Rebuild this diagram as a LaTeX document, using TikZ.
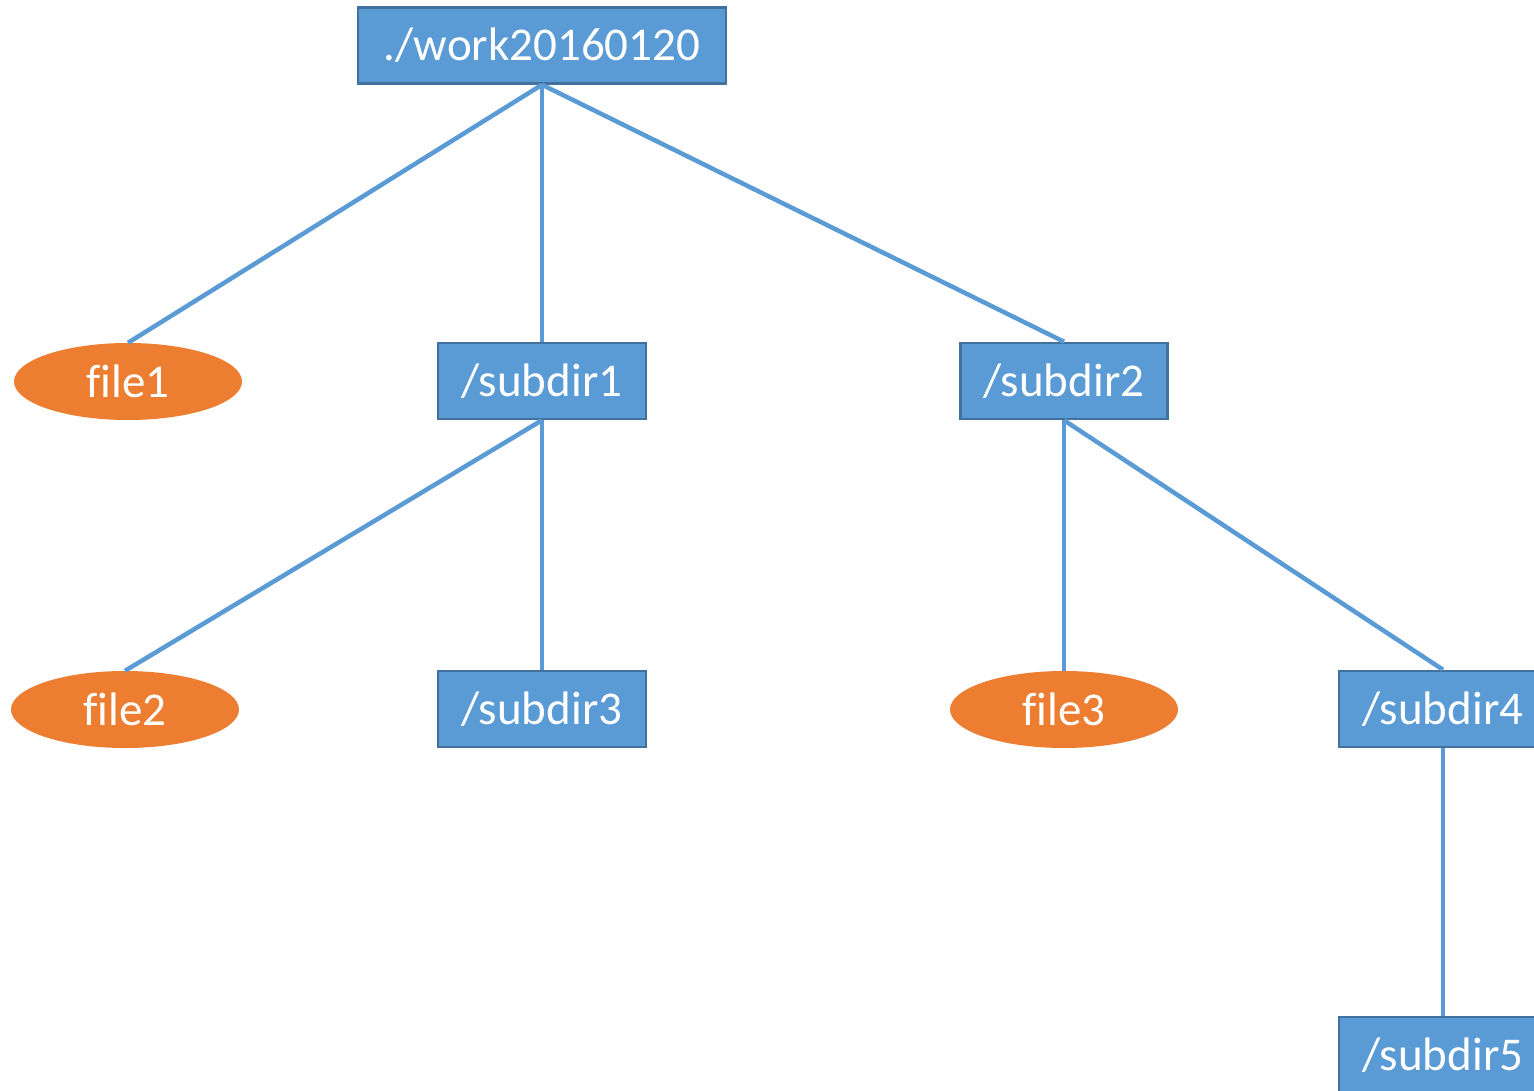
\documentclass[tikz,border=0pt]{standalone}
\usepackage{fontspec}
\setmainfont[Ligatures=NoCommon]{Carlito}
\usetikzlibrary{shapes.geometric}
\definecolor{boxfill}{HTML}{5B9BD5}
\definecolor{boxline}{HTML}{41719C}
\definecolor{filefill}{HTML}{ED7D31}
\tikzset{
  dirbox/.style={draw=boxline, line width=2.5pt, fill=boxfill, text=white, inner sep=0pt,
    minimum height=76pt, font=\fontsize{47}{56}\selectfont},
  filenode/.style={ellipse, fill=filefill, text=white, inner sep=0pt,
    minimum width=228pt, minimum height=77pt, font=\fontsize{47}{56}\selectfont},
  conn/.style={draw=boxfill, line width=4.5pt}
}
\begin{document}
\begin{tikzpicture}[x=1pt,y=-1pt]
\useasboundingbox (0,0) rectangle (1534,1091);
\clip (0,0) rectangle (1534,1091);
\node[dirbox, minimum width=368pt] (root) at (542,45.5) {./work20160120};
\node[dirbox, minimum width=208pt] (s1) at (542,381) {/subdir1};
\node[dirbox, minimum width=207pt] (s2) at (1064,381) {/subdir2};
\node[dirbox, minimum width=208pt] (s3) at (542,709) {/subdir3};
\node[dirbox, minimum width=208pt] (s4) at (1443,709) {/subdir4};
\node[dirbox, minimum width=208pt] (s5) at (1443,1055) {/subdir5};
\node[filenode] (f1) at (128,381.5) {file1};
\node[filenode] (f2) at (125,709.5) {file2};
\node[filenode] (f3) at (1064,709.5) {file3};
\draw[conn] (root.south) -- (f1.north);
\draw[conn] (root.south) -- (s1.north);
\draw[conn] (root.south) -- (s2.north);
\draw[conn] (s1.south) -- (f2.north);
\draw[conn] (s1.south) -- (s3.north);
\draw[conn] (s2.south) -- (f3.north);
\draw[conn] (s2.south) -- (s4.north);
\draw[conn] (s4.south) -- (s5.north);
\end{tikzpicture}
\end{document}
